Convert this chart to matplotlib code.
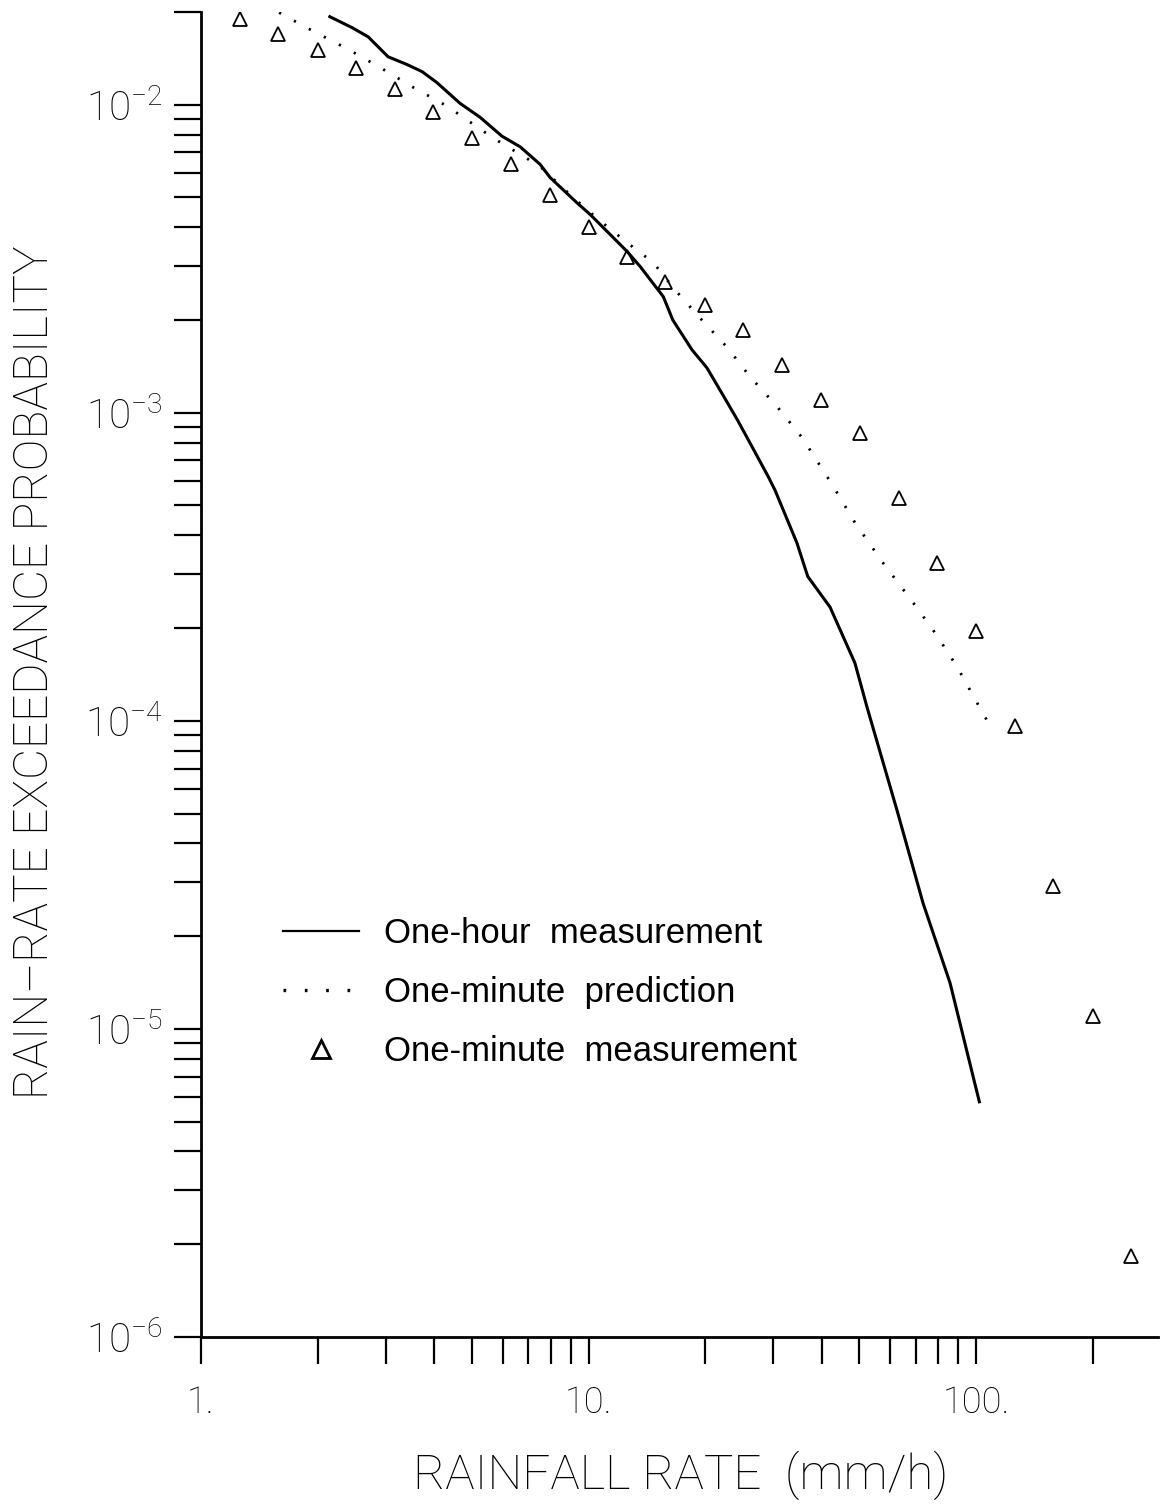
import matplotlib
matplotlib.use("Agg")
import matplotlib.pyplot as plt
from matplotlib.lines import Line2D

# one-hour measurement (solid)
hour_rate = [2.15, 2.45, 2.70, 3.04, 3.40, 3.72, 4.06, 4.66, 5.25, 5.98, 6.66, 7.50,
             7.96, 9.34, 10.1, 12.6, 13.6, 15.6, 16.5, 18.5, 20.2, 21.8, 24.2, 25.8,
             29.1, 30.3, 34.5, 36.8, 42.0, 48.7, 52.3, 62.6, 73.0, 85.7, 102.0]
hour_prob = [1.93e-2, 1.78e-2, 1.66e-2, 1.43e-2, 1.35e-2, 1.28e-2, 1.18e-2, 1.01e-2,
             9.1e-3, 7.9e-3, 7.3e-3, 6.4e-3, 5.8e-3, 4.8e-3, 4.4e-3, 3.33e-3, 2.98e-3,
             2.38e-3, 2.00e-3, 1.60e-3, 1.40e-3, 1.19e-3, 9.5e-4, 8.2e-4, 6.2e-4,
             5.6e-4, 3.78e-4, 2.94e-4, 2.34e-4, 1.54e-4, 1.11e-4, 5.1e-5, 2.56e-5,
             1.41e-5, 5.8e-6]

# one-minute prediction (dotted)
pred_rate = [1.59, 1.95, 2.38, 2.90, 3.52, 4.31, 5.67, 7.50, 9.12, 10.7, 12.6, 14.7,
             16.7, 19.4, 22.8, 26.1, 30.6, 35.6, 42.7, 48.7, 57.5, 68.8, 78.4, 89.3,
             102.0, 111.0]
pred_prob = [1.99e-2, 1.73e-2, 1.52e-2, 1.32e-2, 1.14e-2, 9.9e-3, 7.8e-3, 6.3e-3,
             5.0e-3, 4.2e-3, 3.56e-3, 3.07e-3, 2.51e-3, 2.03e-3, 1.63e-3, 1.31e-3,
             1.05e-3, 8.3e-4, 5.8e-4, 4.4e-4, 3.26e-4, 2.42e-4, 1.93e-4, 1.50e-4,
             1.11e-4, 9.2e-5]

# one-minute measurement (triangles)
meas_rate = [1.26, 1.58, 2.0, 2.51, 3.16, 3.98, 5.01, 6.31, 7.94, 10.0, 12.6, 15.8,
             20.0, 25.1, 31.6, 39.8, 50.1, 63.1, 79.4, 100.0, 126.0, 158.0, 200.0, 251.0]
meas_prob = [1.89e-2, 1.69e-2, 1.51e-2, 1.32e-2, 1.12e-2, 9.5e-3, 7.8e-3, 6.4e-3,
             5.1e-3, 4.0e-3, 3.2e-3, 2.66e-3, 2.24e-3, 1.86e-3, 1.43e-3, 1.10e-3,
             8.6e-4, 5.3e-4, 3.26e-4, 1.95e-4, 9.6e-5, 2.91e-5, 1.10e-5, 1.83e-6]

x_ticks = [1, 10, 100]
x_ticklabels = ["1.", "10.", "100."]
y_ticks = [1e-6, 1e-5, 1e-4, 1e-3, 1e-2]
y_ticklabels = [r"$\mathregular{10^{-6}}$", r"$\mathregular{10^{-5}}$",
                r"$\mathregular{10^{-4}}$", r"$\mathregular{10^{-3}}$",
                r"$\mathregular{10^{-2}}$"]

thin = dict(family=["Roboto", "DejaVu Sans"], weight="light", color="black")

fig = plt.figure(figsize=(11.64, 15.09), dpi=100)
ax = fig.add_axes([0.1727, 0.1140, 0.8222, 0.8781])

ax.plot(hour_rate, hour_prob, color="black", lw=2.2)
ax.plot(pred_rate, pred_prob, color="black", lw=2.0, linestyle=(0, (0.8, 5.3)))
ax.plot(meas_rate, meas_prob, linestyle="none", marker="^", markersize=10,
        markerfacecolor="none", markeredgecolor="black", markeredgewidth=1.3)

ax.set_xscale("log")
ax.set_yscale("log")
ax.set_xlim(1, 295)
ax.set_ylim(1e-6, 2e-2)

for s in ["top", "right"]:
    ax.spines[s].set_visible(False)
for s in ["left", "bottom"]:
    ax.spines[s].set_linewidth(2.0)

ax.set_xticks(x_ticks, labels=x_ticklabels)
ax.set_yticks(y_ticks, labels=y_ticklabels)
ax.tick_params(which="both", direction="out", length=19.5, width=1.6)
ax.tick_params(axis="x", which="major", pad=15)
ax.tick_params(axis="y", which="major", pad=8)
ax.tick_params(which="minor", labelbottom=False, labelleft=False)
for lab in ax.get_xticklabels():
    lab.set_fontfamily(thin["family"])
    lab.set_fontweight("light")
    lab.set_fontsize(26)
for lab in ax.get_yticklabels():
    lab.set_fontfamily(thin["family"])
    lab.set_fontweight("light")
    lab.set_fontsize(29)

fig.text(681 / 1164, 1 - 1475 / 1509, "RAINFALL RATE  (mm/h)", ha="center",
         va="center", fontsize=35.5, **thin)
fig.text(35 / 1164, 1 - 672 / 1509, "RAIN\u2013RATE EXCEEDANCE PROBABILITY",
         ha="center", va="center", rotation=90, fontsize=34.5, **thin)

handles = [
    Line2D([], [], color="black", lw=1.6),
    Line2D([], [], color="black", lw=2.4, linestyle=(0, (0.8, 5.6))),
    Line2D([], [], linestyle="none", marker="^", markersize=13,
           markerfacecolor="none", markeredgecolor="black", markeredgewidth=2),
]
labels = ["One-hour  measurement", "One-minute  prediction", "One-minute  measurement"]
ax.legend(handles, labels, loc="upper left",
          bbox_to_anchor=(283 / 1164, 1 - 917 / 1509),
          bbox_transform=fig.transFigure, frameon=False, borderpad=0,
          borderaxespad=0, handlelength=2.2, handletextpad=0.7,
          labelspacing=0.75, numpoints=1,
          prop=dict(family=["Liberation Sans", "DejaVu Sans"], size=25))

fig.savefig("out.png", dpi=100)
